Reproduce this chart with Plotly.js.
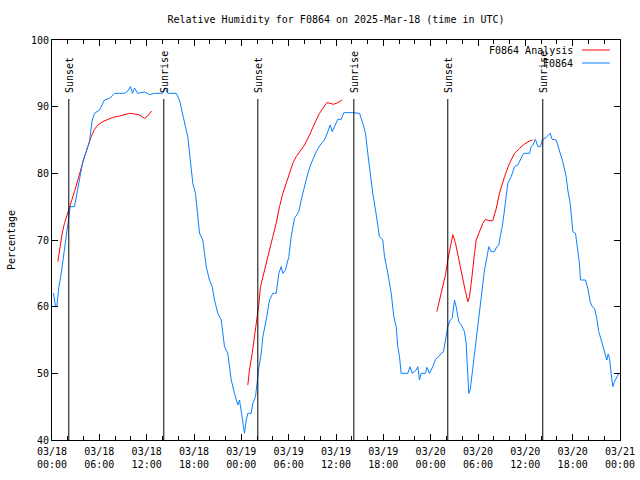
<!DOCTYPE html>
<html>
<head>
<meta charset="utf-8">
<script src="https://cdn.plot.ly/plotly-3.0.1.min.js"></script>
<style>html,body{margin:0;padding:0;background:#fff}#chart{width:640px;height:480px}</style>
</head>
<body>
<div id="chart"></div>
<script>
// Hours after 2025-03-18 00:00 UTC
var obsHours = [0.19,0.44,0.61,0.86,1.17,1.46,1.80,2.00,2.31,2.85,3.07,3.49,3.90,4.34,4.75,5.10,5.39,6.02,6.65,7.29,7.92,8.56,9.19,9.57,9.95,10.20,10.46,10.84,11.73,12.36,12.99,14.00,14.39,14.68,15.74,
16.16,16.58,17.01,17.21,17.43,17.64,17.85,18.19,18.48,18.70,19.12,19.33,19.55,19.96,20.31,20.60,21.02,21.45,21.87,22.28,22.50,22.72,23.13,23.55,23.77,23.98,24.19,24.40,24.62,24.82,25.25,25.45,25.80,26.01,26.18,26.52,26.73,27.15,27.57,27.99,28.42,28.75,29.05,29.26,29.60,30.02,30.32,30.74,31.28,31.59,32.01,32.43,32.86,33.49,34.00,34.54,34.96,35.26,35.52,35.81,36.23,36.66,36.99,38.13,38.98,
39.40,39.74,40.03,40.25,40.46,40.66,41.01,41.30,41.51,41.93,42.15,42.57,43.00,43.33,43.63,43.83,44.05,44.26,45.10,45.38,45.66,46.17,46.37,46.58,46.80,47.34,47.53,47.85,48.27,48.61,49.03,49.33,49.63,49.88,50.17,50.48,50.73,51.02,51.23,51.56,51.87,52.29,52.50,52.63,52.70,52.83,53.01,53.26,53.56,53.85,54.10,54.28,54.53,54.82,55.11,55.37,55.67,56.09,56.38,56.64,56.81,57.07,57.36,57.78,58.21,58.63,59.05,59.77,60.53,60.74,60.95,61.29,61.58,61.92,62.14,62.64,63.15,63.40,63.91,64.24,64.54,64.75,65.18,65.38,65.69,66.02,66.36,66.65,66.86,66.99,67.63,67.92,68.22,68.48,68.77,69.06,69.31,69.62,69.91,70.16,70.33,70.50,70.67,70.88,71.09,71.30,71.59,71.85];
var obsRH = [62.05,60,60,62.8,65,67.4,70.5,72,75,75,76.5,79.3,81.75,83.25,84.75,88,89,89.5,91,91.25,92,92,92,92.3,93,92,92.8,92,92.2,91.8,92,92,92.8,92,92,
91,89,86.5,85.5,83,80,78.5,77,74,71,70,68,66,64,63,61,59,58,54,53,51,49,47,45.25,46,44.5,42.5,41,43,44,44,45.5,46.5,48.75,50.5,53,55.5,58,61,62,62,65,66,65,65.5,67.5,70.5,73.25,74.25,76,78,80,81.5,83.25,84.25,85,86.25,87.25,86.25,87,88.1,88.1,89.1,89.1,89,
87.5,86,83,81,78.5,77,74.5,72,70.5,70,67.5,65,62,58.5,57,54,52.5,50,50,51,50,50.5,51,49,50,50,50.9,50,51,52.1,52.5,53,53.25,55,57,58,58.25,61,60,57.75,57.25,56.25,54.5,51.5,49,47,47.5,50,52.5,55,57.5,60,62.5,65.5,67.25,69,68.25,68.25,69,69.25,70.5,72,74.5,78.5,79.5,81,81.25,83,83,84,84.25,85.1,84,84,85,85.4,86,85.1,85,83.75,82.5,81.75,79.5,77.5,75.5,71.25,71,68.75,66.5,64,64,62.75,60.75,60,59.75,58.25,56.25,55,53.75,52.75,52,52.9,52.25,50,48,48.75,49.5,50];

// Analysis series (null = gap between runs)
var anaHours = [0.74,0.95,1.29,1.58,2.00,2.43,2.85,3.27,3.70,4.12,4.54,4.97,5.39,5.81,6.44,7.07,7.71,8.56,9.19,9.82,10.46,11.09,11.73,12.14,12.61,
18.0,
24.82,25.03,25.38,25.67,25.96,26.21,26.43,26.72,27.15,27.57,27.99,28.42,28.84,29.26,29.69,30.11,30.52,30.95,31.37,32.01,32.64,33.06,33.49,33.91,34.33,34.83,35.26,35.68,36.23,36.79,
42.0,
48.78,49.12,49.54,49.88,50.17,50.48,50.81,51.15,51.44,51.78,52.07,52.41,52.71,52.92,53.14,53.34,53.56,53.77,54.10,54.41,54.61,54.95,55.37,55.87,56.31,56.72,57.36,57.99,58.63,59.27,59.90,60.53,60.91];
var anaRH = [66.75,68.5,71,72.5,74,75.5,77.25,79,81,82.5,84,85.5,86.6,87.25,87.75,88.1,88.4,88.6,88.75,89,88.9,88.75,88.25,88.6,89.35,
null,
48.25,50.5,53,55.5,58,60.3,63,64.5,66.3,68.5,70.5,72.5,75,77,78.5,80,81.5,82.5,83.25,84.25,85.75,87,88,89,89.75,90.6,90.5,90.35,90.6,91,
null,
59.25,61,63,64.8,67,69,70.8,69.5,67.75,65.5,63.75,62.25,60.75,61.5,63.5,66,68,70,71,71.75,72.5,73.1,72.9,72.9,74.7,77,79.5,81.5,83,83.75,84.4,84.85,85];

var sunHours = [2.13,14.17,26.09,38.26,50.17,62.21];
var sunLabels = ['Sunset','Sunrise','Sunset','Sunrise','Sunset','Sunrise'];

var seriesNames = ['F0864 Analysis','F0864'];
var seriesColors = ['#ff0000','#0a80ff'];

function toDate(h){
  var d = new Date(Date.UTC(2025,2,18) + h*3600000);
  return d.toISOString().slice(0,19).replace('T',' ');
}

var FONT = 'DejaVu Sans Mono, monospace';

var traces = [
  {x: anaHours.map(toDate), y: anaRH, type:'scatter', mode:'lines', name: seriesNames[0],
   line:{color:seriesColors[0], width:1}, connectgaps:false, showlegend:false},
  {x: obsHours.map(toDate), y: obsRH, type:'scatter', mode:'lines', name: seriesNames[1],
   line:{color:seriesColors[1], width:1}, showlegend:false}
];

var shapes = [];
var annotations = [];
sunHours.forEach(function(h,i){
  shapes.push({type:'line', xref:'x', yref:'paper', x0:toDate(h), x1:toDate(h), y0:0, y1:0.8525,
    line:{color:'#000', width:1}});
  annotations.push({xref:'x', yref:'paper', x:toDate(h), y:0.862, yanchor:'bottom', xanchor:'center',
    text:sunLabels[i], textangle:-90, showarrow:false, font:{family:FONT, size:10, color:'#000'}});
});

// custom legend (text left, line sample right)
var legY = [0.975, 0.9425];
seriesNames.forEach(function(n,i){
  annotations.push({xref:'paper', yref:'paper', x:0.921, y:legY[i], xanchor:'right', yanchor:'middle',
    text:n, showarrow:false, font:{family:FONT, size:10, color:'#000'}});
  shapes.push({type:'line', xref:'paper', yref:'paper', x0:0.933, x1:0.982, y0:legY[i], y1:legY[i],
    line:{color:seriesColors[i], width:1}});
});

annotations.push({xref:'paper', yref:'paper', x:-0.072, y:0.5, xanchor:'center', yanchor:'middle',
  text:'Percentage', textangle:-90, showarrow:false, font:{family:FONT, size:10, color:'#000'}});

var layout = {
  width:640, height:480,
  margin:{l:52, r:20, t:40, b:40},
  paper_bgcolor:'#fff', plot_bgcolor:'#fff',
  font:{family:FONT, size:10, color:'#000'},
  title:{text:'Relative Humidity for F0864 on 2025-Mar-18 (time in UTC)', x:0.5, xref:'paper',
    y:1-19/480, yref:'container', yanchor:'middle', font:{family:FONT, size:10, color:'#000'}},
  xaxis:{type:'date', range:[toDate(0), toDate(72)], dtick:21600000, tick0:toDate(0),
    tickformat:'%m/%d<br>%H:%M', showgrid:false, zeroline:false, showline:true, linecolor:'#000',
    linewidth:1, mirror:'ticks', ticks:'inside', ticklen:6, tickcolor:'#000', ticklabelstandoff:2,
    minor:{dtick:7200000, ticks:'inside', ticklen:4, tickcolor:'#000', showgrid:false},
    tickfont:{family:FONT, size:10, color:'#000'}, fixedrange:true},
  yaxis:{range:[40,100], dtick:10, showgrid:false, zeroline:false, showline:true, linecolor:'#000',
    linewidth:1, mirror:'ticks', ticks:'inside', ticklen:6, tickcolor:'#000',
    tickfont:{family:FONT, size:10, color:'#000'}, fixedrange:true},
  shapes:shapes, annotations:annotations, showlegend:false
};

Plotly.newPlot('chart', traces, layout, {staticPlot:true, displayModeBar:false});
</script>
</body>
</html>
